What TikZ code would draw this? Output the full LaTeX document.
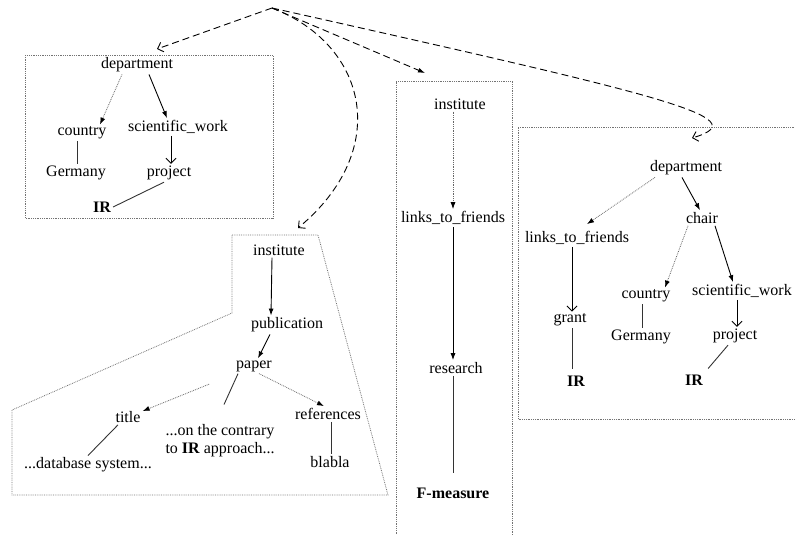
\documentclass[tikz,border=0pt]{standalone}
\usepackage{fontspec}
\setmainfont{Liberation Serif}
\newfontfamily\tmsfont{Liberation Serif}
\usetikzlibrary{arrows.meta,positioning}
\newcommand{\fsz}{\tmsfont\fontsize{16}{18}\selectfont}
\tikzset{
    wordsty/.style={font=\fsz, inner sep=2pt, anchor=center},
    keysty/.style={wordsty, font=\fsz\bfseries},
    boxsty/.style={draw=gray!90!black, densely dotted, line width=0.8pt},
    strongsty/.style={->, line width=0.9pt},
    weaksty/.style={-{Latex[length=7pt,width=5pt,black]}, densely dotted, draw=gray!80!black, line width=0.8pt},
    opensty/.style={-{Straight Barb[length=5pt,width=10pt]}, line width=0.9pt},
    linksty/.style={draw=black!80, line width=0.9pt},
    jumpsty/.style={dash pattern=on 7pt off 4pt, line width=0.9pt},
}

\begin{document}
\begin{tikzpicture}[x=1pt, y=-1pt, >={Latex[length=7pt,width=5pt]}]
  \useasboundingbox (0,0) rectangle (795,535);

  % the four boxes
  \draw[boxsty] (25,55) rectangle (273,218);
  \draw[boxsty] (232,235) -- (318,235) -- (388,495) -- (12,495) -- (12,410) -- (232,313) -- cycle;
  \draw[boxsty] (396,536) -- (396,81) -- (512,81) -- (512,536);
  \draw[boxsty] (796,127) -- (518,127) -- (518,419) -- (796,419);

  % where the dashed arrows start and end
  \coordinate (root) at (272,8);
  \coordinate (in1) at (157,49);
  \coordinate (in2) at (298,228);
  \coordinate (in3) at (425,73);
  \coordinate (in4) at (692,138);

  \draw[jumpsty, -{Straight Barb[length=5pt,width=10pt]}] (root) -- (in1);
  \draw[jumpsty, -{Straight Barb[length=5pt,width=10pt]}] (root) .. controls (368,45) and (392,150) .. (in2);
  \draw[jumpsty, ->] (root) -- (in3);
  \draw[jumpsty, -{Straight Barb[length=5pt,width=10pt]}] (root) .. controls (660,95) and (760,118) .. (in4);

  % box 1
  \node[wordsty] (dep1) at (137,65) {department};
  \node[wordsty] (ctry1) at (82,133) {country};
  \node[wordsty] (sci1) at (178,127) {scientific\_work};
  \node[wordsty] (ger1) at (76,173) {Germany};
  \node[wordsty] (prj1) at (169,173) {project};
  \node[keysty] (ir1) at (102,207) {IR};

  \draw[weaksty] ([xshift=-15pt]dep1.south) -- ([xshift=18pt]ctry1.north);
  \draw[strongsty] ([xshift=12pt]dep1.south) -- ([xshift=-11pt]sci1.north);
  \draw[opensty] ([xshift=-7pt]sci1.south) -- ([xshift=2pt]prj1.north);
  \draw[linksty] ([xshift=-5pt]ctry1.south) -- ([xshift=1pt]ger1.north);
  \draw[linksty] ([xshift=-5pt]prj1.south) -- (ir1.east);

  % box 2
  \node[wordsty] (inst2) at (279,250) {institute};
  \node[wordsty] (pub2) at (287,325) {publication};
  \node[wordsty] (pap2) at (254,366) {paper};
  \node[wordsty] (title2) at (128,417) {title};
  \node[wordsty, align=center] (con2) at (220,441) {...on the contrary\\to \textbf{IR} approach...};
  \node[wordsty] (ref2) at (328,414) {references};
  \node[wordsty] (db2) at (88,465) {...database system...};
  \node[wordsty] (bla2) at (330,462) {blabla};

  \draw[strongsty] ([xshift=-7pt]inst2.south) -- ([xshift=-16pt]pub2.north);
  \draw[strongsty] ([xshift=-17pt]pub2.south) -- ([xshift=4pt]pap2.north);
  \draw[weaksty, shorten <=28pt] (pap2) -- (title2);
  \draw[linksty] ([xshift=-16pt]pap2.south) -- ([xshift=4pt,yshift=18pt]con2.north);
  \draw[weaksty] ([xshift=5pt]pap2.south) -- ([xshift=-4pt]ref2.north);
  \draw[linksty] ([xshift=-10pt]title2.south) -- (db2.north);
  \draw[linksty] ([xshift=3pt]ref2.south) -- ([xshift=1pt]bla2.north);

  % box 3
  \node[wordsty] (inst3) at (460,104) {institute};
  \node[wordsty] (ltf3) at (453,218) {links\_to\_friends};
  \node[wordsty] (res3) at (456,368) {research};
  \node[keysty] (fm3) at (453,493) {F-measure};

  \draw[weaksty] ([xshift=-7pt]inst3.south) -- (ltf3.north);
  \draw[strongsty] (ltf3.south) -- ([xshift=-3pt]res3.north);
  \draw[linksty] ([xshift=-3pt]res3.south) -- ([yshift=12pt]fm3.north);

  % box 4
  \node[wordsty] (dep4) at (686,168) {department};
  \node[wordsty] (chair4) at (702,218) {chair};
  \node[wordsty] (ltf4) at (577,238) {links\_to\_friends};
  \node[wordsty] (ctry4) at (646,296) {country};
  \node[wordsty] (sci4) at (742,291) {scientific\_work};
  \node[wordsty] (grant4) at (570,320) {grant};
  \node[wordsty] (ger4) at (641,337) {Germany};
  \node[wordsty] (prj4) at (735,336) {project};
  \node[keysty] (ira4) at (576,381) {IR};
  \node[keysty] (irb4) at (694,380) {IR};

  \draw[weaksty] ([xshift=-31pt]dep4.south) -- ([xshift=10pt,yshift=5pt]ltf4.north);
  \draw[strongsty] ([xshift=-4pt]dep4.south) -- ([xshift=-2pt]chair4.north);
  \draw[weaksty] ([xshift=-14pt]chair4.south) -- ([xshift=19pt]ctry4.north);
  \draw[strongsty] ([xshift=13pt]chair4.south) -- ([xshift=-9pt]sci4.north);
  \draw[opensty] ([xshift=-5pt]ltf4.south) -- ([xshift=2pt]grant4.north);
  \draw[opensty] ([xshift=-5pt]sci4.south) -- ([xshift=2pt]prj4.north);
  \draw[linksty] ([xshift=-4pt]ctry4.south) -- ([xshift=1pt]ger4.north);
  \draw[linksty] ([xshift=2pt]grant4.south) -- ([xshift=-4pt,yshift=5pt]ira4.north);
  \draw[linksty] ([xshift=-7pt]prj4.south) -- ([xshift=3pt,yshift=4pt]irb4.north east);
\end{tikzpicture}
\end{document}
